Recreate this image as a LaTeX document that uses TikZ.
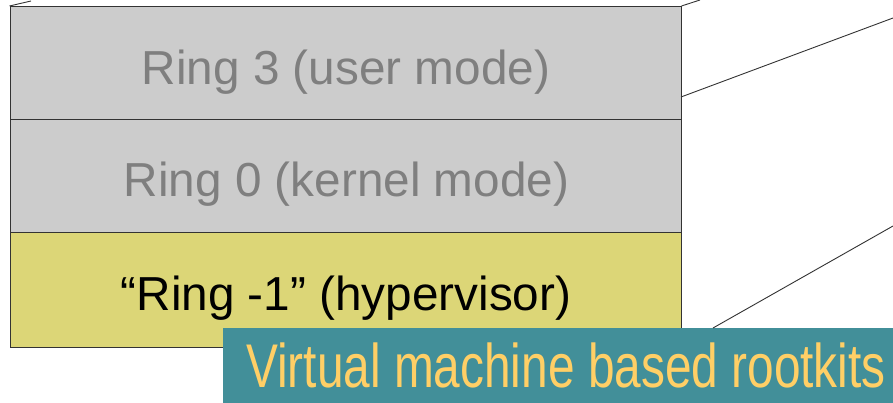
\documentclass[tikz,border=0pt]{standalone}
\usepackage{fontspec}
\setmainfont{Liberation Sans}
\newfontfamily\narrowfont[FakeStretch=0.775]{Liberation Sans}
\definecolor{layergray}{HTML}{CCCCCC}
\definecolor{hyperyellow}{HTML}{DCD677}
\definecolor{ringtext}{HTML}{7F7F7F}
\definecolor{tealbox}{HTML}{428F99}
\definecolor{goldtext}{HTML}{FFCF66}
\definecolor{edgeline}{HTML}{333333}
\begin{document}
\begin{tikzpicture}[x=1pt,y=-1pt,
  layer/.style={draw=edgeline, line width=1pt, minimum width=671pt, inner sep=0pt},
  ringlabel/.style={anchor=base, font=\fontsize{47.7}{50}\selectfont},
  persp/.style={draw=edgeline, line width=0.9pt},
  banner/.style={fill=tealbox, minimum width=670pt, minimum height=75pt, inner sep=0pt,
    text=goldtext, font=\narrowfont\fontsize{61.7}{64}\selectfont}]
\useasboundingbox (0,0) rectangle (893,403);
% privilege rings stacked from user mode down to the hypervisor
\node[layer, fill=layergray, minimum height=113.5pt] (ring3) at (345.5,63.25) {};
\node[layer, fill=layergray, minimum height=113pt] (ring0) at (345.5,176.5) {};
\node[layer, fill=hyperyellow, minimum height=114pt] (ringm1) at (345.5,290) {};
\node[ringlabel, text=ringtext] (t3) at (346,85) {Ring 3 (user mode)};
\node[ringlabel, text=ringtext] (t0) at (346.5,197) {Ring 0 (kernel mode)};
\node[ringlabel, text=black] (tm1) at (346,310) {“Ring -1” (hypervisor)};
% perspective edges
\coordinate (tl) at (31,1);
\coordinate (tr) at (700,0);
\coordinate (mid) at (893,18);
\coordinate (low) at (893,226);
\coordinate (r3side) at (681,97);
\draw[persp] (ring3.north west) -- (tl);
\draw[persp] (ring3.north east) -- (tr);
\draw[persp] (r3side) -- (mid);
% banner
\node[banner] (vmr) at (558,365.5) {\hspace*{16pt}Virtual machine based rootkits};
\coordinate (bannertop) at (713,328);
\draw[persp] (bannertop) -- (low);
\end{tikzpicture}
\end{document}
